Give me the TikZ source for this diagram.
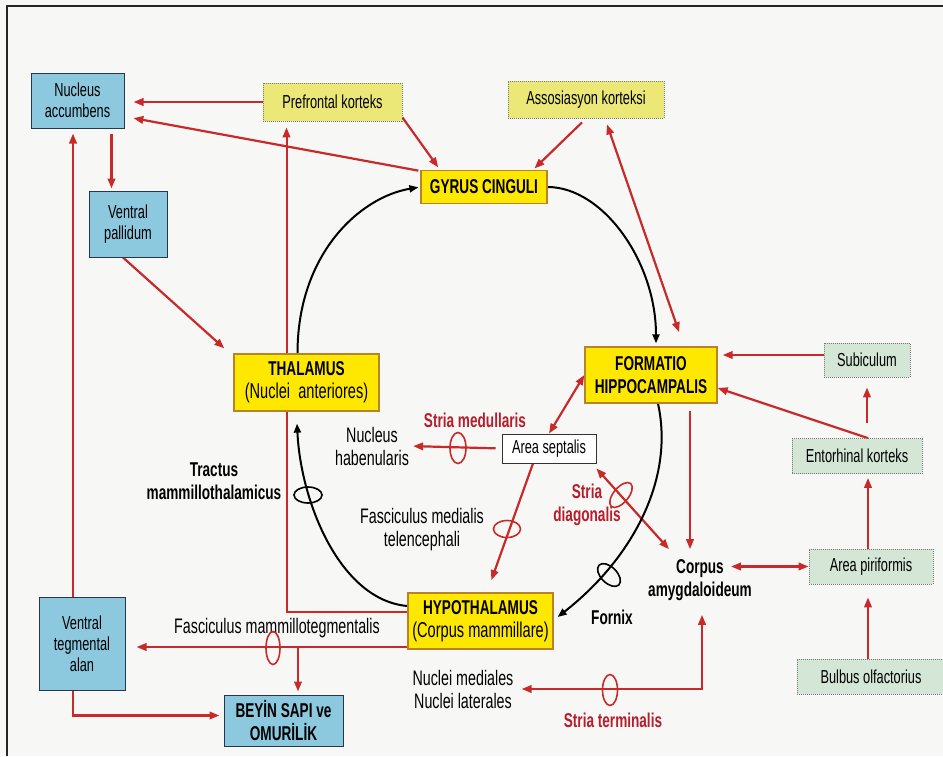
\documentclass[tikz,border=0pt]{standalone}
\usepackage{fontspec}
\setmainfont{Liberation Sans}[FakeStretch=0.68]
\usetikzlibrary{arrows.meta,shapes.geometric,calc}
\definecolor{bgc}{RGB}{247,247,246}
\definecolor{lred}{RGB}{200,42,42}
\definecolor{tred}{RGB}{180,30,45}
\definecolor{bluef}{RGB}{140,200,222}
\definecolor{blued}{RGB}{40,55,75}
\definecolor{yelf}{RGB}{255,232,0}
\definecolor{yeld}{RGB}{185,130,40}
\definecolor{pyelf}{RGB}{236,232,120}
\definecolor{greenf}{RGB}{212,230,214}
\definecolor{dotc}{RGB}{120,120,120}
\pgfdeclarelayer{bg}
\pgfsetlayers{bg,main}
\begin{document}
\begin{tikzpicture}[x=1pt,y=-1pt,
  >={Triangle[length=10pt,width=7.5pt]},
  bxz/.style={inner sep=0pt, align=center},
  rtxt/.style={font=\fontsize{18.8}{21}\selectfont},
  ltxt/.style={font=\fontsize{21}{23}\selectfont},
  btxt/.style={font=\bfseries\fontsize{20}{23}\selectfont},
  bluebox/.style={bxz, rtxt, fill=bluef, draw=blued, line width=1pt},
  yelbox/.style={bxz, btxt, fill=yelf, draw=yeld, line width=1.3pt},
  pyelbox/.style={bxz, rtxt, fill=pyelf, draw=dotc, line width=0.8pt, dash pattern=on 1pt off 1pt},
  grbox/.style={bxz, rtxt, fill=greenf, draw=dotc, line width=0.8pt, dash pattern=on 1pt off 1pt},
  wbox/.style={bxz, rtxt, fill=white, draw=black!80, line width=0.8pt},
  labn/.style={bxz, ltxt},
  blabn/.style={bxz, btxt},
  rlabn/.style={bxz, btxt, text=tred},
  redar/.style={draw=lred, line width=2.2pt, ->},
  redbi/.style={draw=lred, line width=2.2pt, <->},
  blkar/.style={draw=black, line width=2pt, -{Triangle[length=9pt,width=7pt]}},
  rell/.style={ellipse, draw=lred, line width=1.6pt, inner sep=0pt},
  bell/.style={ellipse, draw=black, line width=1.6pt, inner sep=0pt}]
\useasboundingbox (0,0) rectangle (943,756);

% boxes
\node[bluebox, minimum width=93pt, minimum height=55pt] (nacc) at (77.5,100.5) {Nucleus\\accumbens};
\node[bluebox, minimum width=78pt, minimum height=66pt] (vp) at (128,224) {Ventral\\pallidum};
\node[bluebox, minimum width=86pt, minimum height=93pt] (vta) at (82,643.5) {Ventral\\tegmental\\alan};
\node[bluebox, btxt, minimum width=119pt, minimum height=51pt] (bs) at (283.5,720.5) {BEYİN SAPI ve\\OMURİLİK};
\node[pyelbox, minimum width=139pt, minimum height=38pt] (pf) at (332.5,102) {Prefrontal korteks};
\node[pyelbox, minimum width=156pt, minimum height=37pt] (ak) at (586,99.5) {Assosiasyon korteksi};
\node[yelbox, minimum width=126pt, minimum height=33pt] (gc) at (484,187) {GYRUS CINGULI};
\node[yelbox, minimum width=145pt, minimum height=57pt] (th) at (306.5,382.5) {THALAMUS\\{\mdseries\fontsize{21.5}{23}\selectfont (Nuclei~~anteriores)}};
\node[yelbox, minimum width=132pt, minimum height=56pt] (fh) at (651,375) {FORMATIO\\HIPPOCAMPALIS};
\node[yelbox, minimum width=145pt, minimum height=56pt] (hyp) at (480.5,621) {HYPOTHALAMUS\\{\mdseries\fontsize{21.5}{23}\selectfont (Corpus mammillare)}};
\node[wbox, minimum width=94pt, minimum height=29pt] (as) at (549,448.5) {Area septalis};
\node[grbox, minimum width=86pt, minimum height=34pt] (sub) at (867,360) {Subiculum};
\node[grbox, minimum width=130pt, minimum height=35pt] (ek) at (857,456) {Entorhinal korteks};
\node[grbox, minimum width=124pt, minimum height=35pt] (ap) at (871,566.5) {Area piriformis};
\node[grbox, minimum width=148pt, minimum height=35pt] (bo) at (871,676.5) {Bulbus olfactorius};

% labels
\node[labn] (nh) at (372,446) {Nucleus\\habenularis};
\node[rlabn] (sm) at (475,420) {Stria medullaris};
\node[blabn] (tm) at (214,481) {Tractus\\mammillothalamicus};
\node[labn] (fmt) at (422,530) {Fasciculus medialis\\telencephali};
\node[rlabn] (sd) at (587,505) {Stria\\diagonalis};
\node[blabn] (ca) at (700,580) {Corpus\\amygdaloideum};
\node[blabn] (fx) at (612,617) {Fornix};
\node[labn] (fmtg) at (277,628) {Fasciculus mammillotegmentalis};
\node[labn] (nm) at (463,689) {Nuclei mediales\\Nuclei laterales};
\node[rlabn] (st) at (613,720) {Stria terminalis};

% fibre marks
\node[rell, minimum width=16pt, minimum height=31pt] (e1) at (458,448) {};
\node[rell, minimum width=27pt, minimum height=17pt] (e2) at (507,529) {};
\node[rell, minimum width=30pt, minimum height=15pt, rotate=50] (e3) at (621,495) {};
\node[rell, minimum width=14pt, minimum height=33pt] (e4) at (273,648) {};
\node[rell, minimum width=15pt, minimum height=31pt] (e5) at (610,690) {};
\node[bell, minimum width=28pt, minimum height=16pt] (e6) at (308,495) {};
\node[bell, minimum width=28pt, minimum height=16pt, rotate=-45] (e7) at (609,575) {};

\begin{pgfonlayer}{bg}
\fill[bgc] (0,0) rectangle (943,756);
\draw[black!85, line width=1.5pt] (7,756) -- (7,6) -- (943,6);

% red connectors
\draw[redar, shorten >=9pt] (pf.west) -- (pf.west -| nacc.east);
\draw[redar, shorten >=9pt, shorten <=2pt] ([yshift=16pt]gc.west) -- ([yshift=-16pt]nacc.east);
\draw[redar, shorten >=3pt] ([yshift=4pt]pf.south east) -- ([xshift=-44pt]gc.north);
\draw[redar, shorten >=2pt] ([xshift=-4pt,yshift=-4pt]ak.south) -- ([xshift=49pt]gc.north);
\draw[redbi, shorten >=15pt] ([xshift=21pt,yshift=-6pt]ak.south) -- ([xshift=33pt]fh.north);
\draw[redar, shorten <=5pt, shorten >=2pt] ([xshift=34pt]nacc.south) -- ([xshift=34pt]nacc.south |- vp.north);
\draw[redar] ([xshift=-5pt]vp.south) -- ([xshift=-9pt,yshift=5pt]th.north west);
\draw[redar, line width=2pt, shorten >=6pt] ([yshift=9pt]hyp.west) -| ([xshift=-46pt]pf.south);
\draw[redar, shorten >=5pt] ([xshift=-9pt]vta.north) -- ([xshift=-9pt]vta.north |- nacc.south);
\draw[redar, shorten >=4pt] ([xshift=-9pt]vta.south) |- ([yshift=5pt]bs.west);
\coordinate (mtg) at ([yshift=-26pt]hyp.west);
\draw[redar, shorten >=11pt] (mtg) -- (mtg -| vta.east);
\draw[redar, shorten >=3pt] ([xshift=14.5pt]bs.north |- mtg) -- ([xshift=14.5pt]bs.north);
\draw[redar, shorten <=6pt, shorten >=4pt] (as.west) -- (nh.east);
\draw[redbi] (as.north) -- (fh.west);
\draw[redar, shorten >=13pt] ([xshift=-16pt]as.south) -- ([xshift=6.5pt]hyp.north);
\draw[redbi] ([yshift=-5pt]as.south east) -- ($(ca.north)+(-31,-10)$);
\draw[redar, shorten <=7pt, shorten >=10pt] ([xshift=39pt]fh.south) -- ([xshift=39pt]fh.south |- ca.north);
\draw[redbi] ($(ca.east |- ap.west)+(-21,0)$) -- (ap.west);
\draw[redar] ([xshift=11pt]ek.north) -- ([yshift=-13pt]fh.east);
\draw[redar, shorten >=5pt] ([yshift=5pt]sub.west) -- ([yshift=5pt]sub.west -| fh.east);
\draw[redar, shorten <=15pt, shorten >=10pt] (sub.south |- ek.north) -- (sub.south);
\draw[redar, shorten >=4pt] ([xshift=-3pt]ap.north) -- ([xshift=-3pt]ap.north |- ek.south);
\draw[redar, shorten >=13pt] ([xshift=-3pt]bo.north) -- ([xshift=-3pt]bo.north |- ap.south);
\draw[redbi, shorten <=14pt, shorten >=8pt] ([xshift=2pt]ca.south) |- (nm.east);

% black limbic circuit
\draw[blkar, shorten >=3pt] (gc.east) .. controls +(55,0) and +(0,-85) .. ([xshift=5pt]fh.north);
\draw[blkar] ([xshift=7pt]fh.south) .. controls +(17,77) and +(73,-57) .. ([xshift=4pt,yshift=4pt]hyp.east);
\draw[blkar, shorten >=12pt] ([yshift=15pt]hyp.west) .. controls +(-68,-6) and +(4,89) .. ([xshift=-10pt]th.south);
\draw[blkar, shorten >=2pt] ([xshift=-9pt]th.north) .. controls +(0,-100) and +(-60,10) .. (gc.west);
\end{pgfonlayer}
\end{tikzpicture}
\end{document}
